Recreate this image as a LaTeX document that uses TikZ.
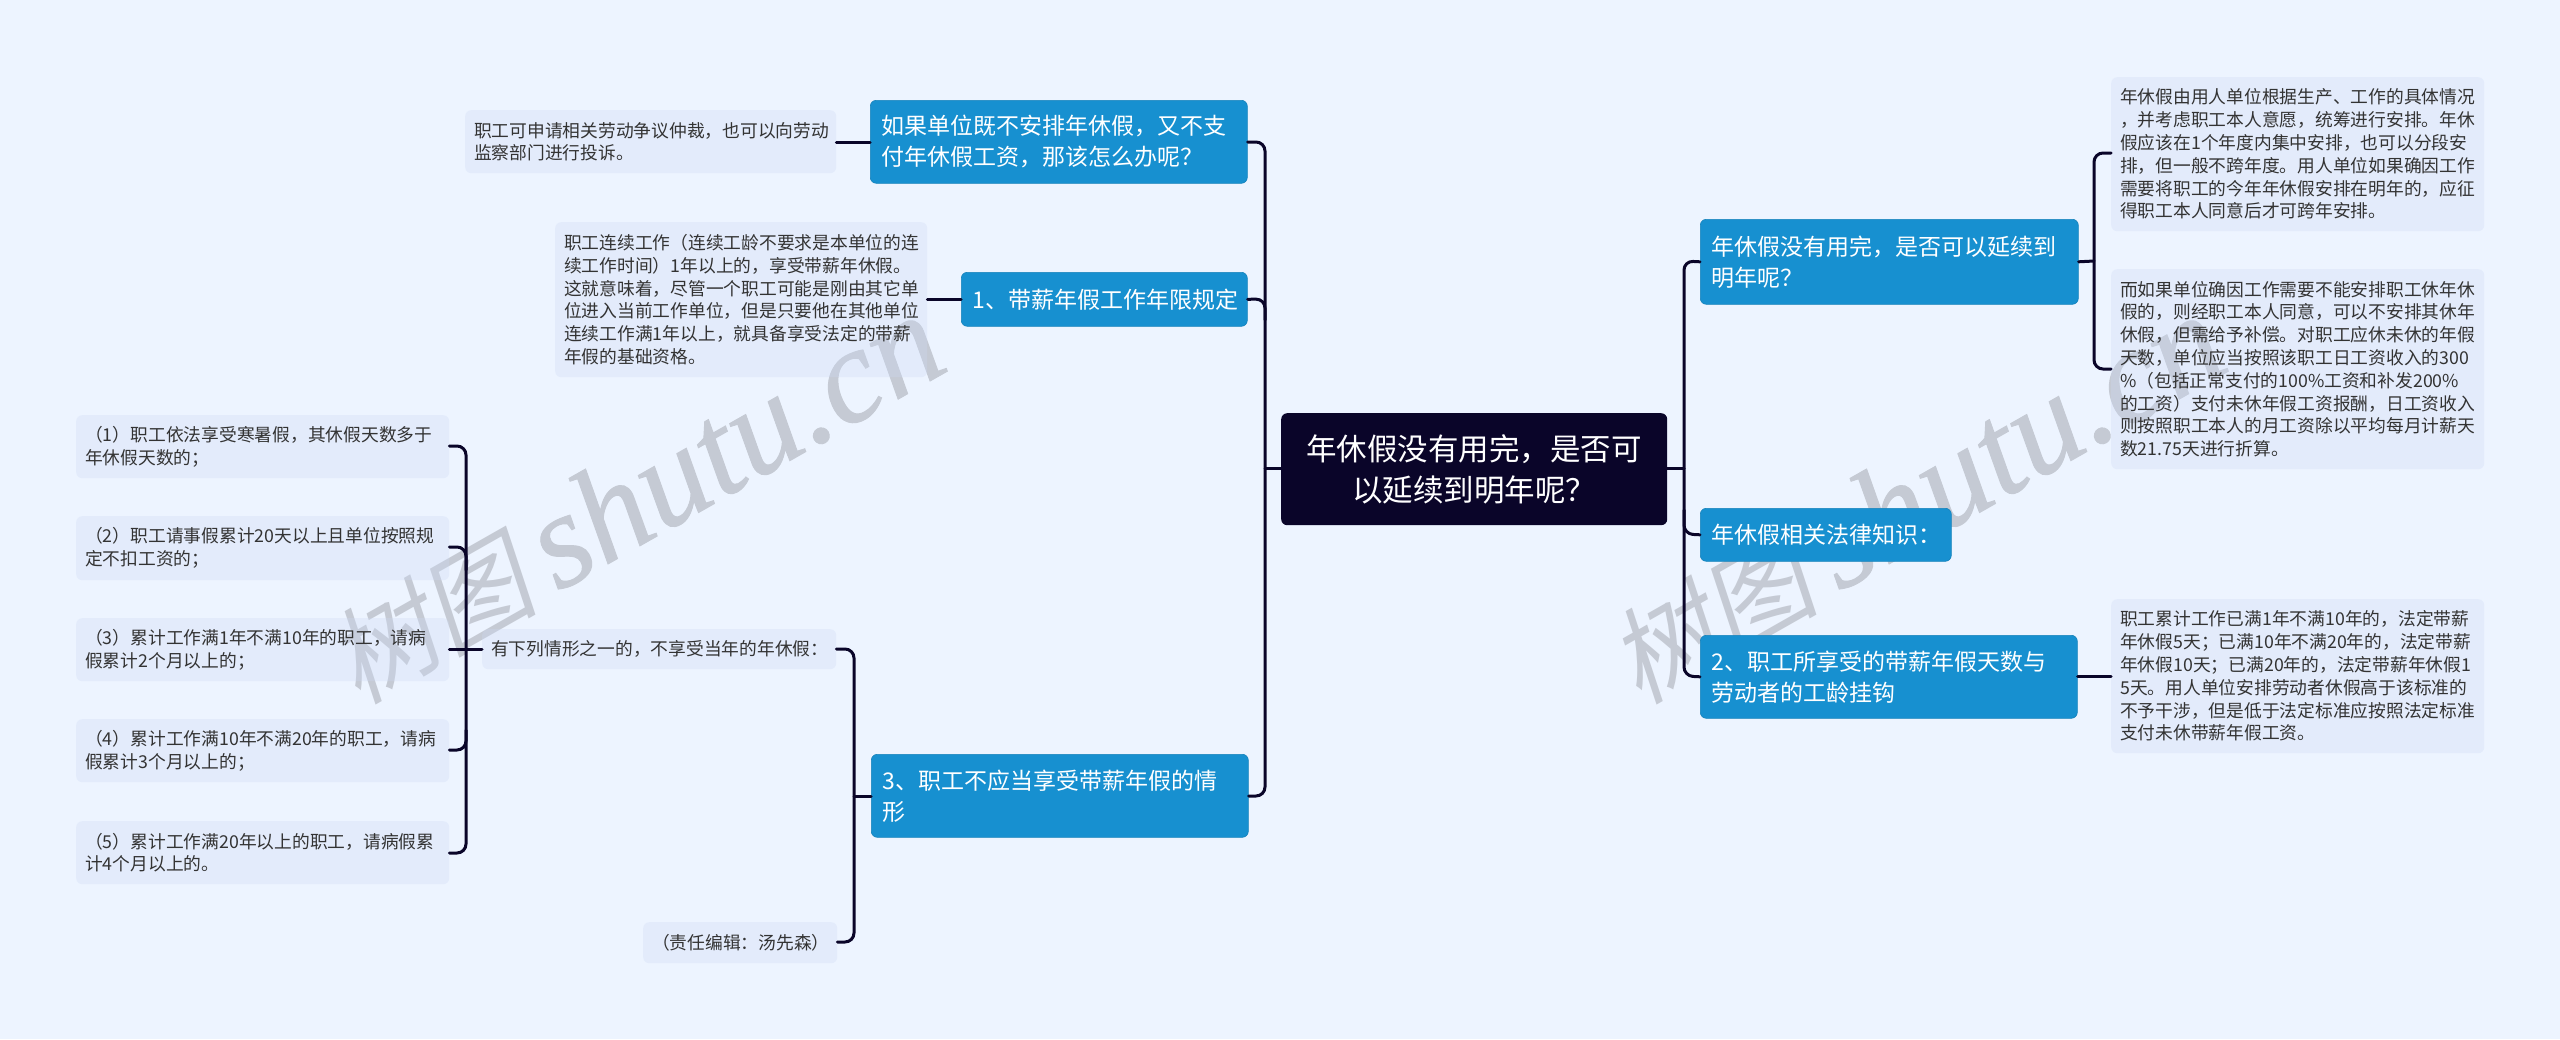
\documentclass[tikz,border=0pt]{standalone}
\usepackage{fontspec}
\setmainfont{Noto Sans CJK SC}
\newfontfamily\wmcjk[FakeSlant=0.2]{Noto Sans CJK SC}
\newfontfamily\wmlat[ItalicFeatures={FakeBold=0.7}]{Liberation Serif}
\definecolor{bgc}{HTML}{EDF4FF}
\definecolor{leafc}{HTML}{CCD9F5}
\definecolor{bluec}{HTML}{1790D0}
\definecolor{rootc}{HTML}{0A0529}
\definecolor{linec}{HTML}{0A0529}
\definecolor{txtc}{HTML}{333333}
\definecolor{wmc}{HTML}{C5CAD4}
\tikzset{
  x=1pt,y=-1pt,
  leaf/.style={fill=leafc,fill opacity=.3,text opacity=1,rounded corners=6pt,inner xsep=9pt,inner ysep=0pt,text=txtc,align=left,text width=355pt,font=\fontsize{17.75}{22.8}\selectfont},
  blue/.style={fill=bluec,draw=bluec!90!black,line width=.6pt,rounded corners=6pt,inner xsep=11pt,inner ysep=0pt,text=white,align=left,font=\fontsize{23}{31}\selectfont},
  rootn/.style={fill=rootc,rounded corners=6pt,inner xsep=10pt,inner ysep=0pt,text=white,align=center,font=\fontsize{30.5}{41.6}\selectfont},
  conn/.style={draw=linec,line width=3pt,rounded corners=9pt,line cap=round},
  wm/.style={text=wmc,rotate=29.6,anchor=base west,inner sep=0pt}
}
\newcommand{\lf}[7]{\node[leaf,minimum width=#4pt,minimum height=#5pt,anchor=north west,text width=#6pt] (#1) at (#2,#3) {#7};}
\newcommand{\bl}[7]{\node[blue,minimum width=#4pt,minimum height=#5pt,anchor=north west,text width=#6pt] (#1) at (#2,#3) {#7};}
\newcommand{\wmtext}{{\fontsize{105}{105}\selectfont\wmcjk 树图}\hspace{20pt}{\fontsize{135}{135}\selectfont\wmlat\itshape shutu.cn}}
\begin{document}
\begin{tikzpicture}
\fill[bgc] (0,0) rectangle (2560,1039);
\useasboundingbox (0,0) rectangle (2560,1039);
% watermarks
\node[wm] (w1) at (358,706) {\wmtext};
\node[wm] (w2) at (1639,706) {\wmtext};
% root
\node[rootn,minimum width=386pt,minimum height=112pt,text width=366pt,anchor=north west] (root) at (1281,413) {年休假没有用完，是否可\\以延续到明年呢？};
% left branches
\bl{b1}{870}{100}{377}{83}{355}{如果单位既不安排年休假，又不支\\付年休假工资，那该怎么办呢？}
\bl{b2}{961}{272}{286}{54}{264}{1、带薪年假工作年限规定}
\bl{b3}{871}{754}{377}{83}{355}{3、职工不应当享受带薪年假的情\\形}
% right branches
\bl{r1}{1700}{219}{378}{85}{356}{年休假没有用完，是否可以延续到\\明年呢？}
\bl{r2}{1700}{508}{251}{53}{229}{年休假相关法律知识：}
\bl{r3}{1700}{635}{377}{83}{355}{2、职工所享受的带薪年假天数与\\劳动者的工龄挂钩}
% leaves
\lf{l1}{465}{110}{371}{63}{353}{职工可申请相关劳动争议仲裁，也可以向劳动\\监察部门进行投诉。}
\lf{l2}{555}{222}{372}{155}{354}{职工连续工作（连续工龄不要求是本单位的连\\续工作时间）1年以上的，享受带薪年休假。\\这就意味着，尽管一个职工可能是刚由其它单\\位进入当前工作单位，但是只要他在其他单位\\连续工作满1年以上，就具备享受法定的带薪\\年假的基础资格。}
\lf{m1}{482}{629}{354}{40}{336}{有下列情形之一的，不享受当年的年休假：}
\lf{m2}{643}{922}{194}{41}{176}{（责任编辑：汤先森）}
\lf{k1}{76}{415}{373}{63}{355}{（1）职工依法享受寒暑假，其休假天数多于\\年休假天数的；}
\lf{k2}{76}{516}{373}{64}{355}{（2）职工请事假累计20天以上且单位按照规\\定不扣工资的；}
\lf{k3}{76}{618}{373}{63}{355}{（3）累计工作满1年不满10年的职工，请病\\假累计2个月以上的；}
\lf{k4}{76}{719}{373}{63}{355}{（4）累计工作满10年不满20年的职工，请病\\假累计3个月以上的；}
\lf{k5}{76}{821}{373}{63}{355}{（5）累计工作满20年以上的职工，请病假累\\计4个月以上的。}
\lf{q1}{2111}{77}{373}{154}{355}{年休假由用人单位根据生产、工作的具体情况\\，并考虑职工本人意愿，统筹进行安排。年休\\假应该在1个年度内集中安排，也可以分段安\\排，但一般不跨年度。用人单位如果确因工作\\需要将职工的今年年休假安排在明年的，应征\\得职工本人同意后才可跨年安排。}
\lf{q2}{2111}{269}{373}{200}{355}{而如果单位确因工作需要不能安排职工休年休\\假的，则经职工本人同意，可以不安排其休年\\休假，但需给予补偿。对职工应休未休的年假\\天数，单位应当按照该职工日工资收入的300\\\%（包括正常支付的100\%工资和补发200\%\\的工资）支付未休年假工资报酬，日工资收入\\则按照职工本人的月工资除以平均每月计薪天\\数21.75天进行折算。}
\lf{q3}{2111}{599}{373}{154}{355}{职工累计工作已满1年不满10年的，法定带薪\\年休假5天；已满10年不满20年的，法定带薪\\年休假10天；已满20年的，法定带薪年休假1\\5天。用人单位安排劳动者休假高于该标准的\\不予干涉，但是低于法定标准应按照法定标准\\支付未休带薪年假工资。}
% connectors
\coordinate (tl) at (1265,468);
\coordinate (tr) at (1684,468);
\draw[conn] (b1.east |- 0,142) -- (1265,142) -- (1265,796) -- (b3.east |- 0,796);
\draw[conn] (b2.east) -- (1265,299) -- (1265,320);
\draw[conn,rounded corners=0pt] (root.west |- tl) -- (tl);
\draw[conn,rounded corners=0pt] (root.east |- tr) -- (tr);
\draw[conn] (r1.west) -- (1684,261) -- (1684,676) -- (r3.west);
\draw[conn] (r2.west) -- (1684,534) -- (1684,510);
\draw[conn,rounded corners=0pt] (b1.west |- 0,142) -- (l1.east |- 0,142);
\draw[conn,rounded corners=0pt] (b2.west) -- (l2.east |- b2.west);
\draw[conn,rounded corners=0pt] (r3.east |- 0,676) -- (q3.west |- 0,676);
\draw[conn,rounded corners=0pt] (r1.east) -- (2094,261);
\draw[conn] (q1.west |- 0,153) -- (2094,153) -- (2094,369) -- (q2.west |- 0,369);
\draw[conn] (m1.east |- 0,649) -- (854,649) -- (854,942) -- (m2.east |- 0,942);
\draw[conn,rounded corners=0pt] (b3.west |- 0,796) -- (854,796);
\draw[conn] (k1.east |- 0,446) -- (466,446) -- (466,853) -- (k5.east |- 0,853);
\draw[conn] (k2.east |- 0,547) -- (466,547) -- (466,570);
\draw[conn] (k4.east |- 0,750) -- (466,750) -- (466,730);
\draw[conn,rounded corners=0pt] (k3.east |- 0,649) -- (m1.west |- 0,649);
\end{tikzpicture}
\end{document}
